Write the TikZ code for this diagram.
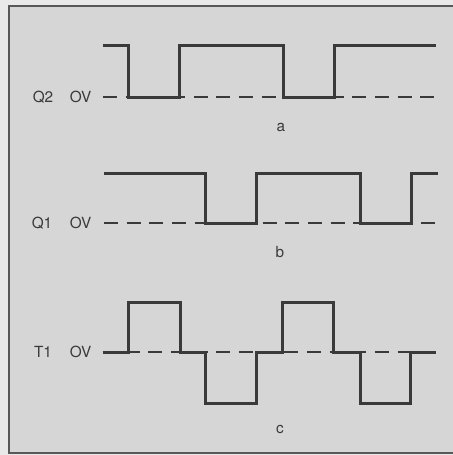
\documentclass[tikz,border=0pt]{standalone}
\usepackage{fontspec}
\setmainfont{TeX Gyre Heros}
\usepackage{tikz}
\usetikzlibrary{positioning}
\definecolor{PaperGrey}{HTML}{E9E9E9}
\definecolor{PanelGrey}{HTML}{D6D6D6}
\definecolor{InkGrey}{HTML}{3A3A3A}

\begin{document}
\begin{tikzpicture}[x=.75pt,y=-.75pt,font=\fontsize{11.5}{13}\selectfont,
 every node/.style={inner sep=1pt,text=InkGrey},
 wave/.style={draw=InkGrey,line width=2.25pt,line join=miter},
 zero/.style={draw=InkGrey,line width=1.5pt,dash pattern=on 10.5pt off 6.5pt}]
\useasboundingbox[fill=PaperGrey] (0,0) rectangle (453,455);
\fill[PanelGrey] (9,6) rectangle (453,453);
\draw[draw=InkGrey!85,line width=2.2pt] (453,6)--(9,6)--(9,453)--(453,453);
% a: Q2
\begin{scope}[shift={(0,97)}]
 \node (q2) at (43,0) {Q2};
 \node (q2ov) at (80.5,0) {OV};
 \draw[zero] (103,0)--(436,0);
 \draw[wave] (103,-52) -| (129,0) -| (180,-52) -| (284,0) -| (335,-52) -- (436,-52);
 \node (capa) at (281,30) {a};
\end{scope}
% b: Q1
\begin{scope}[shift={(0,223)}]
 \node (q1) at (42,0) {Q1};
 \node (q1ov) at (80.5,0) {OV};
 \draw[zero] (104,0)--(438,0);
 \draw[wave] (104,-50) -| (206,0) -| (257,-50) -| (361,0) -| (412,-50) -- (438,-50);
 \node (capb) at (280,29) {b};
\end{scope}
% c: T1
\begin{scope}[shift={(0,352)}]
 \node (t1) at (43,0) {T1};
 \node (t1ov) at (80.5,0) {OV};
 \draw[zero] (103,0)--(436,0);
 \draw[wave] (103,0) -| (129,-50) -| (181,0) -| (206,51) -| (257,0)
  -| (283,-50) -| (334,0) -| (361,51) -| (411,0) -- (436,0);
 \node (capc) at (280,77) {c};
\end{scope}
\end{tikzpicture}
\end{document}
